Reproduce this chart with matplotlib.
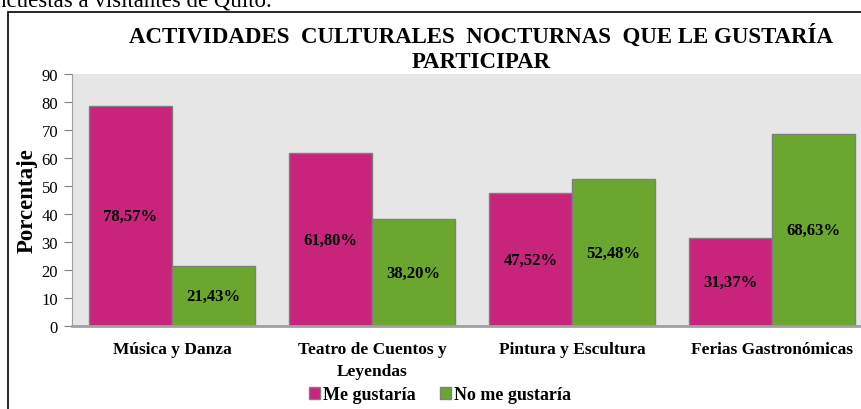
import numpy as np
import matplotlib.pyplot as plt
from matplotlib.patches import Rectangle

# Data
categorias = ["Música y Danza", "Teatro de Cuentos y\nLeyendas",
              "Pintura y Escultura", "Ferias Gastronómicas"]
me_gustaria = [78.57, 61.80, 47.52, 31.37]
no_me_gustaria = [21.43, 38.20, 52.48, 68.63]
etiquetas_si = ["78,57%", "61,80%", "47,52%", "31,37%"]
etiquetas_no = ["21,43%", "38,20%", "52,48%", "68,63%"]
yticks = [0, 10, 20, 30, 40, 50, 60, 70, 80, 90]

plt.rcParams['font.family'] = ['Liberation Serif', 'DejaVu Serif']

magenta = '#C8247B'
verde = '#6BA72E'

fig = plt.figure(figsize=(8.61, 4.10), dpi=100)
W, H = 861, 410

# outer frame of the original figure (partially cropped)
fig.patches.append(Rectangle((8 / W, -0.1), 1.2, (H - 13) / H + 0.1,
                             transform=fig.transFigure, fill=False,
                             edgecolor='black', linewidth=1.2))

# cropped caption text above the frame
fig.text(272 / W, 1 - 7 / H, "encuestas a visitantes de Quito.",
         ha='right', va='baseline', fontsize=16.5)

ax = fig.add_axes([72 / W, 83 / H, 800 / W, 252 / H])
ax.set_facecolor('#E6E6E6')

x = np.arange(len(categorias))
w = 0.415
b1 = ax.bar(x - w / 2, me_gustaria, w, color=magenta, edgecolor='#7F7F7F',
            linewidth=1, label='Me gustaría')
b2 = ax.bar(x + w / 2, no_me_gustaria, w, color=verde, edgecolor='#7F7F7F',
            linewidth=1, label='No me gustaría')

for rect, lab in zip(b1, etiquetas_si):
    ax.text(rect.get_x() + rect.get_width() / 2, rect.get_height() / 2, lab,
            ha='center', va='center', fontsize=12, fontweight='bold')
for rect, lab in zip(b2, etiquetas_no):
    ax.text(rect.get_x() + rect.get_width() / 2, rect.get_height() / 2, lab,
            ha='center', va='center', fontsize=12, fontweight='bold')

ax.set_xlim(-0.5, 3.5)
ax.set_ylim(0, 90)
ax.set_yticks(yticks)
ax.tick_params(axis='y', labelsize=12, length=6, color='#808080', pad=4)
ax.set_xticks(x)
ax.set_xticklabels(categorias, fontsize=12.5, fontweight='bold',
                   linespacing=1.45)
ax.tick_params(axis='x', length=0, pad=11)

for s in ['top', 'right']:
    ax.spines[s].set_visible(False)
ax.spines['left'].set_color('#A0A0A0')
ax.spines['bottom'].set_color('#A0A0A0')
ax.spines['bottom'].set_linewidth(2)

ax.set_ylabel('Porcentaje', fontsize=16.5, fontweight='bold', labelpad=3)

fig.text(481 / W, 1 - 49 / H,
         "ACTIVIDADES  CULTURALES  NOCTURNAS  QUE LE GUSTARÍA\nPARTICIPAR",
         ha='center', va='center', fontsize=16.5, fontweight='bold',
         linespacing=1.25)

fig.legend(handles=[b1, b2], loc='center', bbox_to_anchor=(440 / W, 1 - 396 / H),
           ncol=2, frameon=False, handlelength=0.6, handleheight=0.6,
           handletextpad=0.15, columnspacing=1.4,
           prop={'weight': 'bold', 'size': 13})

fig.savefig('out.png', dpi=100)
